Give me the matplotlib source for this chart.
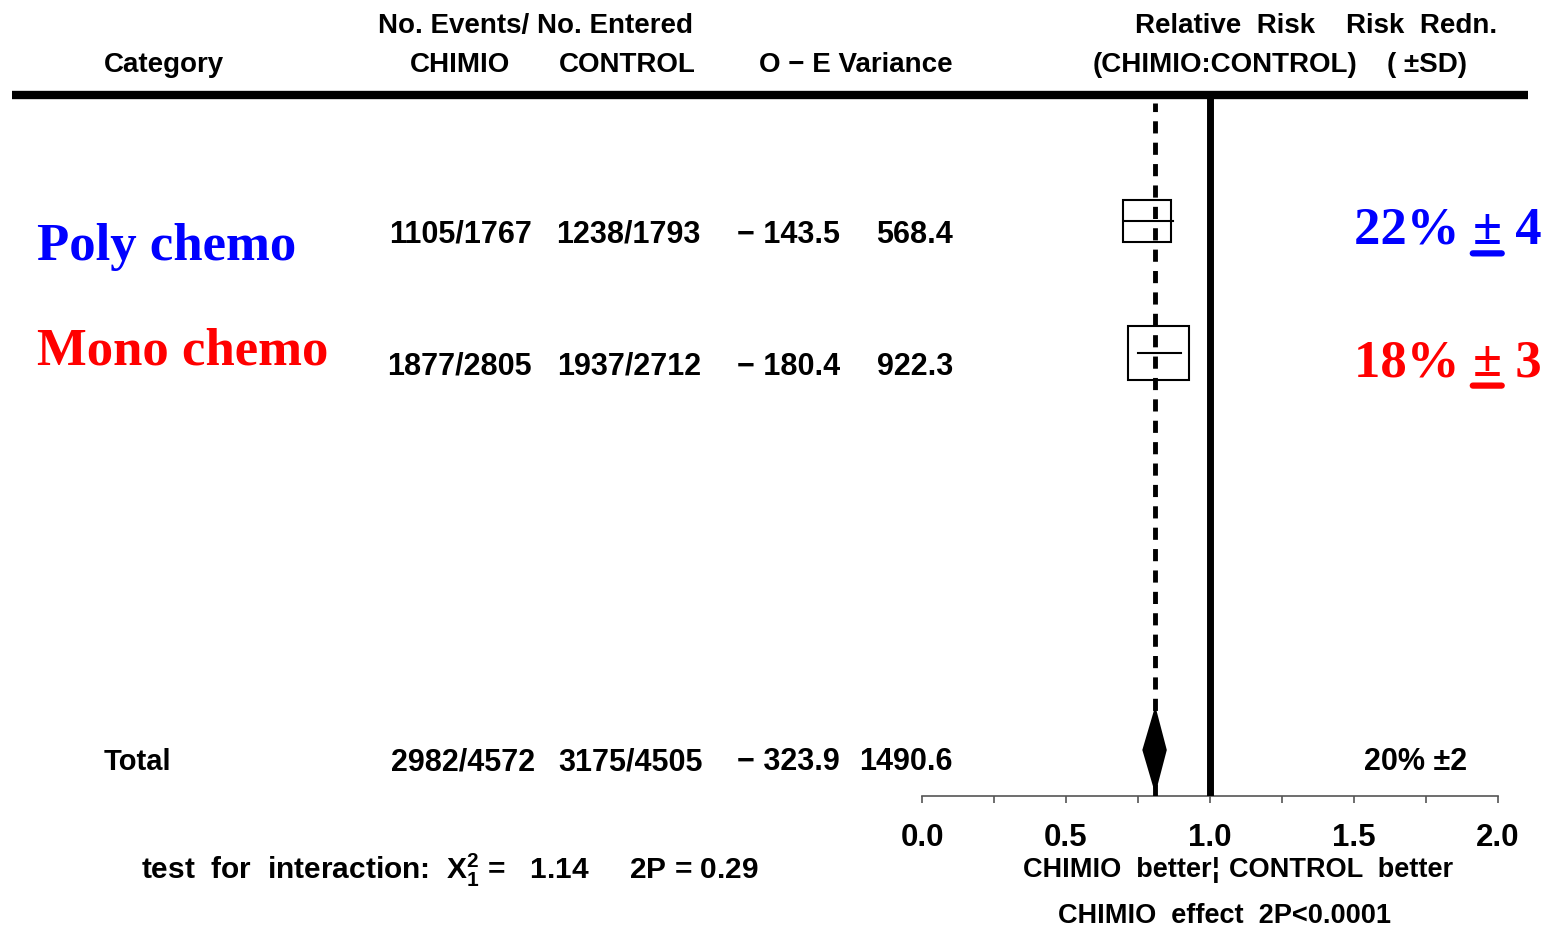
import numpy as np
import matplotlib.pyplot as plt
from matplotlib.patches import Rectangle
from matplotlib.lines import Line2D
from matplotlib.ticker import MultipleLocator, FormatStrFormatter
from matplotlib.transforms import blended_transform_factory

W, H = 1551, 929

# subgroup rows
categories = ["Poly chemo", "Mono chemo"]
cat_colors = ["blue", "red"]
ev_chimio = ["1105/1767", "1877/2805"]
ev_control = ["1238/1793", "1937/2712"]
o_minus_e = [-143.5, -180.4]
variance = [568.4, 922.3]
rr = [0.78, 0.82]
ci_low = [0.70, 0.75]
ci_high = [0.87, 0.90]
redn = [22, 18]
redn_sd = [4, 3]
rows = [0, 1]

# overall
total_row = 4
total_ev_chimio = "2982/4572"
total_ev_control = "3175/4505"
total_o_minus_e = -323.9
total_variance = 1490.6
total_rr = 0.81
total_ci = [0.765, 0.85]
total_redn = 20
total_sd = 2

plt.rcParams["font.family"] = ["Liberation Sans", "DejaVu Sans"]
plt.rcParams["font.weight"] = "bold"
plt.rcParams["mathtext.fontset"] = "custom"
plt.rcParams["mathtext.rm"] = "Liberation Sans:bold"
plt.rcParams["mathtext.default"] = "regular"

fig = plt.figure(figsize=(W / 100, H / 100), dpi=100)


def fx(p):
    return p / W


def fy(p):
    return 1 - p / H


ax = fig.add_axes([fx(922), fy(797), 576 / W, 701 / H])
ax.set_xlim(0, 2)
ax.set_ylim(4.348, -0.953)
ax.patch.set_alpha(0)
for s in ["left", "right", "top"]:
    ax.spines[s].set_visible(False)
ax.spines["bottom"].set_color("#555555")
ax.spines["bottom"].set_linewidth(1.2)
ax.set_yticks([])
ax.xaxis.set_major_locator(MultipleLocator(0.5))
ax.xaxis.set_minor_locator(MultipleLocator(0.25))
ax.xaxis.set_major_formatter(FormatStrFormatter("%.1f"))
ax.tick_params(axis="x", which="both", length=5, width=1.2, color="#555555")
ax.tick_params(axis="x", which="major", labelsize=22.5, pad=14)

# reference lines
ax.axvline(1.0, color="black", lw=5, zorder=3)
ax.axvline(total_rr, ymax=0.988, color="black", lw=3.5, ls=(0, (2.5, 1.9)), zorder=4)

# boxes sized by variance
for r, x, lo, hi, v in zip(rows, rr, ci_low, ci_high, variance):
    w = 0.007 * np.sqrt(v)
    h = w * 288 * 0.875 / 132.25
    ax.add_patch(Rectangle((x - w / 2, r - h / 2), w, h, fill=False, ec="black", lw=1.5, zorder=2))
    ax.plot([lo, hi], [r, r], color="black", lw=1.5, zorder=2)

# overall diamond
lo, hi = total_ci
ax.fill([lo, total_rr, hi, total_rr], [total_row, total_row - 0.333, total_row, total_row + 0.333],
        color="black", lw=0, zorder=5)

# header
hdr = dict(fontsize=20, va="baseline")
fig.text(fx(535), fy(33), "No. Events/ No. Entered", ha="center", **hdr)
fig.text(fx(1225), fy(33), "Relative  Risk", ha="center", **hdr)
fig.text(fx(1422), fy(33), "Risk  Redn.", ha="center", **hdr)
fig.text(fx(104), fy(72), "Category", ha="left", **hdr)
fig.text(fx(460), fy(72), "CHIMIO", ha="center", **hdr)
fig.text(fx(627), fy(72), "CONTROL", ha="center", **hdr)
fig.text(fx(953), fy(72), "O \u2212 E Variance", ha="right", **hdr)
fig.text(fx(1225), fy(72), "(CHIMIO:CONTROL)", ha="center", **hdr)
fig.text(fx(1427), fy(72), "( \u00b1SD)", ha="center", **hdr)
fig.add_artist(Line2D([fx(12), fx(1528)], [fy(96), fy(96)], lw=6, color="black",
                      solid_capstyle="butt", transform=fig.transFigure))

tr = blended_transform_factory(fig.transFigure, ax.transData)
num = dict(fontsize=22, va="baseline", ha="right", transform=tr)


def fmt(v):
    return f"{v:.1f}".replace("-", "\u2212 ")


label_dy = [0.287, 0.081]
for i, r in enumerate(rows):
    fig.text(fx(37), r + label_dy[i], categories[i], color=cat_colors[i], fontsize=38,
             fontfamily="Liberation Serif", fontweight="bold", va="baseline", transform=tr)
    y = r + 0.155
    fig.text(fx(532), y, ev_chimio[i], **num)
    fig.text(fx(701), y, ev_control[i], **num)
    fig.text(fx(840), y, fmt(o_minus_e[i]), **num)
    fig.text(fx(953), y, fmt(variance[i]), **num)

    serif = dict(color=cat_colors[i], fontsize=38, fontfamily="Liberation Serif",
                 fontweight="bold", va="bottom", ha="left")
    t1 = ax.text(fx(1354), r + 0.165, f"{redn[i]}% ", transform=tr, **serif)
    t1.set_va("baseline")
    t2 = ax.annotate("\u00b1", xy=(1, 0), xycoords=t1, **serif)
    ax.annotate(f" {redn_sd[i]}", xy=(1, 0), xycoords=t2, **serif)
    ax.annotate("", xy=(1, 0.01), xycoords=t2, xytext=(0, 0.01), textcoords=t2,
                arrowprops=dict(arrowstyle="-", lw=4.5, color=cat_colors[i],
                                shrinkA=0, shrinkB=0))

y = total_row + 0.144
fig.text(fx(104), y, "Total", fontsize=21, va="baseline", ha="left", transform=tr)
fig.text(fx(535), y, total_ev_chimio, **num)
fig.text(fx(703), y, total_ev_control, **num)
fig.text(fx(840), y, fmt(total_o_minus_e), **num)
fig.text(fx(953), y, fmt(total_variance), **num)
fig.text(fx(1416), y, f"{total_redn}% \u00b1{total_sd}", fontsize=22, va="baseline",
         ha="center", transform=tr)

# bottom annotations
trx = blended_transform_factory(ax.transData, fig.transFigure)
fig.text(1.005, fy(877), "CHIMIO  better", ha="right", va="baseline", fontsize=19.5, transform=trx)
fig.text(1.02, fy(877), "\u00a6", ha="center", va="baseline", fontsize=19.5, transform=trx)
fig.text(1.065, fy(877), "CONTROL  better", ha="left", va="baseline", fontsize=19.5, transform=trx)
fig.text(fx(1225), fy(923), "CHIMIO  effect  2P<0.0001", ha="center", va="baseline",
         fontsize=19.5)
fig.text(fx(141), fy(879), r"test  for  interaction:  $X_1^2$ =   1.14     2P = 0.29",
         ha="left", va="baseline", fontsize=21.5)

fig.savefig("out.png", dpi=100)
